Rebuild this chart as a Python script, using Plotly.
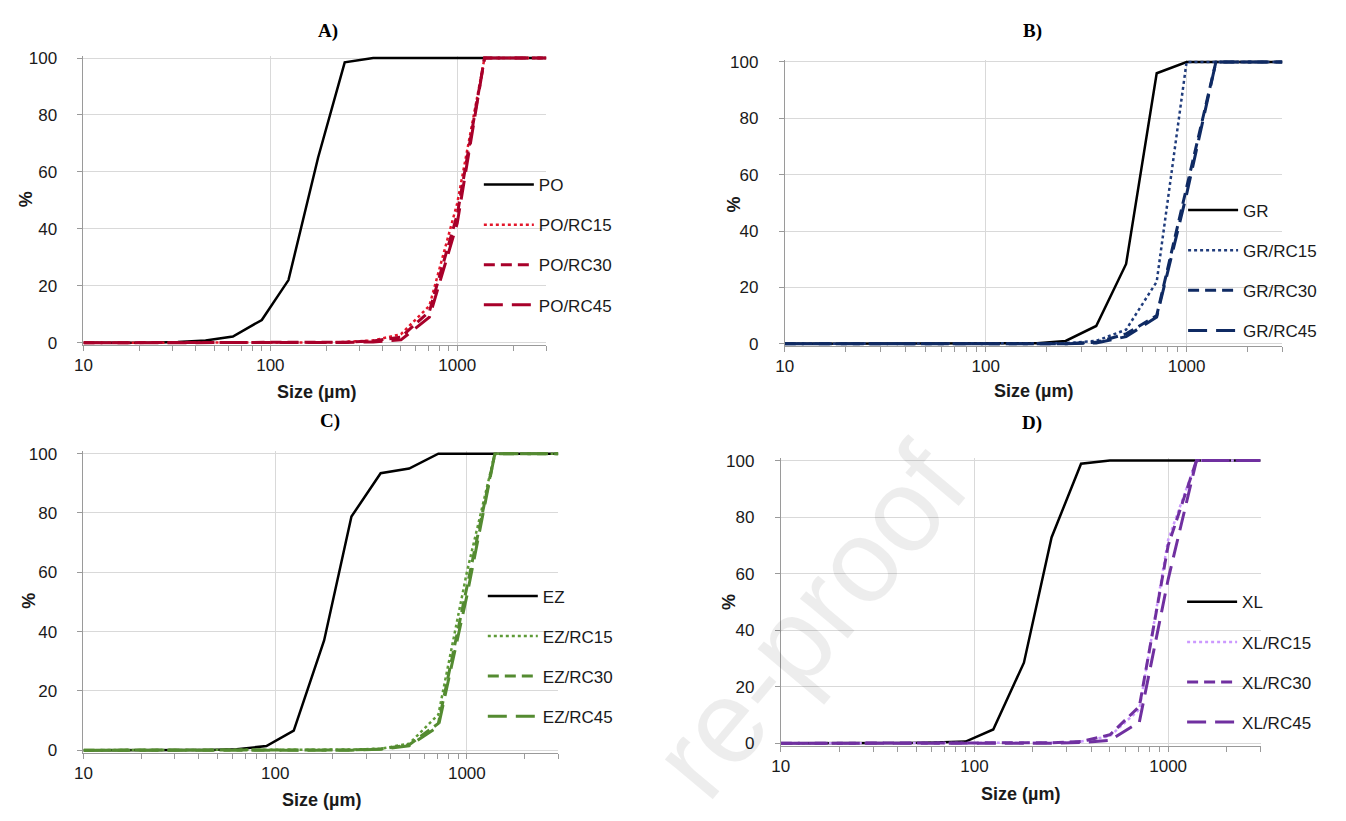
import plotly.graph_objects as go
import math

W, H = 1346, 821

# ---------------- data ----------------
SIZES = [10, 16, 22.4, 32, 45, 63, 90, 125, 180, 250, 355, 500, 710, 1000, 1400, 2000, 3000]

PO      = [0, 0, 0, 0.3, 0.8, 2.2, 8, 22, 65, 98.5, 100, 100, 100, 100, 100, 100, 100]
PO_RC15 = [0, 0, 0, 0, 0, 0, 0, 0, 0.1, 0.3, 0.8, 3, 13, 49, 100, 100, 100]
PO_RC30 = [0, 0, 0, 0, 0, 0, 0, 0, 0, 0.2, 0.6, 2, 11, 45, 100, 100, 100]
PO_RC45 = [0, 0, 0, 0, 0, 0, 0, 0, 0, 0.1, 0.3, 1, 9, 42, 100, 100, 100]

GR      = [0, 0, 0, 0, 0, 0, 0, 0, 0.2, 1, 6.3, 28.3, 96, 100, 100, 100, 100]
GR_RC15 = [0, 0, 0, 0, 0, 0, 0, 0, 0, 0.2, 1, 5, 22, 100, 100, 100, 100]
GR_RC30 = [0, 0, 0, 0, 0, 0, 0, 0, 0, 0, 0.5, 3.5, 10, 56, 100, 100, 100]
GR_RC45 = [0, 0, 0, 0, 0, 0, 0, 0, 0, 0, 0.3, 2.5, 9.5, 53, 100, 100, 100]

EZ      = [0, 0, 0, 0, 0.1, 0.3, 1.4, 6.6, 37, 78.8, 93.4, 95, 100, 100, 100, 100, 100]
EZ_RC15 = [0, 0, 0, 0, 0, 0, 0, 0, 0, 0.2, 0.5, 2.2, 12, 60, 100, 100, 100]
EZ_RC30 = [0, 0, 0, 0, 0, 0, 0, 0, 0, 0.1, 0.4, 1.8, 9, 55, 100, 100, 100]
EZ_RC45 = [0, 0, 0, 0, 0, 0, 0, 0, 0, 0, 0.3, 1.5, 8, 52, 100, 100, 100]

XL      = [0, 0, 0, 0, 0.1, 0.3, 0.6, 4.9, 28.5, 72.8, 98.9, 100, 100, 100, 100, 100, 100]
XL_RC15 = [0, 0, 0, 0, 0, 0, 0, 0, 0, 0.2, 0.6, 2.5, 12, 72, 100, 100, 100]
XL_RC30 = [0, 0, 0, 0, 0, 0, 0, 0, 0, 0.2, 0.6, 3, 13, 70, 100, 100, 100]
XL_RC45 = [0, 0, 0, 0, 0, 0, 0, 0, 0, 0, 0.3, 1, 7.5, 58, 100, 100, 100]

PANEL_TITLES = ["A)", "B)", "C)", "D)"]
SERIES_NAMES = [
    ["PO", "PO/RC15", "PO/RC30", "PO/RC45"],
    ["GR", "GR/RC15", "GR/RC30", "GR/RC45"],
    ["EZ", "EZ/RC15", "EZ/RC30", "EZ/RC45"],
    ["XL", "XL/RC15", "XL/RC30", "XL/RC45"],
]
SERIES_VALUES = [
    [PO, PO_RC15, PO_RC30, PO_RC45],
    [GR, GR_RC15, GR_RC30, GR_RC45],
    [EZ, EZ_RC15, EZ_RC30, EZ_RC45],
    [XL, XL_RC15, XL_RC30, XL_RC45],
]
X_TICKS = [10, 100, 1000]
Y_TICKS = [0, 20, 40, 60, 80, 100]
X_TITLE = "Size (µm)"
Y_TITLE = "%"
WATERMARK = "re-proof"

# ---------------- styling ----------------
COLORS = [
    ["#000000", "#E3162A", "#A8002A", "#A8002A"],
    ["#000000", "#203C7C", "#0F2A63", "#0F2A63"],
    ["#000000", "#5E9A37", "#548B31", "#548B31"],
    ["#000000", "#CC99FF", "#7030A0", "#7030A0"],
]
DASHES = ["solid", "dot", "11px,6px", "19px,9px"]
WIDTHS = [2.5, 2.5, 3, 3]

# pixel boxes: (x px at 10, x px at 3000, y px at 0, y px at 100)
BOXES = [(75, 541, 342, 52), (781, 1282, 343, 56), (75, 553, 757, 455), (777, 1260, 750, 462)]
TITLE_POS = [(321, 24), (1030, 24), (323, 422), (1030, 424)]
XT_POS = [(310, 392), (1031, 391), (315, 808), (1018, 802)]
YT_POS = [(18, 196), (730, 201), (20, 605), (725, 606)]
# (text start x, legend top y)
LEG_POS = [(538, 163), (1247, 189), (542, 582), (1246, 588)]

XMIN, XMAX = 10, 3000
PAD = 0.8
FONT = "Liberation Sans"
GRID = "#D9D9D9"
AXIS = "#9A9A9A"
ITEMW = 50

fig = go.Figure()
layout = dict(
    width=W, height=H, margin=dict(l=0, r=0, t=0, b=0),
    paper_bgcolor="white", plot_bgcolor="white", showlegend=True,
    font=dict(family=FONT, size=17, color="#1a1a1a"),
)
annotations = []

minor_vals = []
for dec in [10, 100, 1000]:
    for k in range(2, 10):
        v = dec * k
        if v <= XMAX:
            minor_vals.append(v)

for i in range(4):
    sfx = "" if i == 0 else str(i + 1)
    xl, xr, y0, y100 = BOXES[i]
    ppu = (y0 - y100) / 100.0
    ybot = y0 + PAD * ppu
    ytop = y100 - PAD * ppu
    leg = "legend" + sfx
    for j in range(4):
        fig.add_trace(go.Scatter(
            x=SIZES, y=SERIES_VALUES[i][j], mode="lines",
            name=SERIES_NAMES[i][j],
            line=dict(color=COLORS[i][j], width=WIDTHS[j], dash=DASHES[j]),
            xaxis="x" + sfx, yaxis="y" + sfx,
            legend=leg, legendgroup=SERIES_NAMES[i][j],
        ))
    layout["xaxis" + sfx] = dict(
        type="log", range=[math.log10(XMIN), math.log10(XMAX)],
        domain=[xl / W, xr / W], anchor="y" + sfx,
        tickmode="array", tickvals=X_TICKS, ticktext=[str(v) for v in X_TICKS],
        showgrid=True, gridcolor=GRID, gridwidth=1,
        showline=True, linecolor=AXIS, linewidth=1,
        ticks="outside", ticklen=5, tickcolor=AXIS,
        minor=dict(tickmode="array", tickvals=minor_vals, ticks="outside",
                   ticklen=5, tickcolor=AXIS, showgrid=False),
        tickfont=dict(size=17, family=FONT, color="#1a1a1a"),
        ticklabelstandoff=0,
        zeroline=False,
    )
    layout["yaxis" + sfx] = dict(
        range=[-PAD, 100 + PAD],
        domain=[1 - ybot / H, 1 - ytop / H], anchor="x" + sfx,
        tickmode="array", tickvals=Y_TICKS,
        showgrid=True, gridcolor=GRID, gridwidth=1,
        showline=True, linecolor=AXIS, linewidth=1,
        ticks="outside", ticklen=5, tickcolor=AXIS,
        tickfont=dict(size=17, family=FONT, color="#1a1a1a"),
        ticklabelstandoff=17,
        zeroline=False,
    )
    lx, ly = LEG_POS[i]
    layout[leg] = dict(
        x=(lx - ITEMW - 15) / W, y=1 - ly / H, xanchor="left", yanchor="top",
        bgcolor="rgba(0,0,0,0)", borderwidth=0, itemwidth=ITEMW,
        font=dict(size=17, family=FONT, color="#1a1a1a"),
        tracegroupgap=15, itemclick=False, itemdoubleclick=False,
    )
    tx, ty = TITLE_POS[i]
    annotations.append(dict(
        text="<b>" + PANEL_TITLES[i] + "</b>", x=tx / W, y=1 - ty / H,
        xref="paper", yref="paper", showarrow=False,
        xanchor="center", yanchor="middle",
        font=dict(family="Liberation Serif", size=19, color="#000000"),
    ))
    ax, ay = XT_POS[i]
    annotations.append(dict(
        text="<b>" + X_TITLE + "</b>", x=ax / W, y=1 - ay / H,
        xref="paper", yref="paper", showarrow=False,
        xanchor="center", yanchor="middle",
        font=dict(family=FONT, size=18, color="#1a1a1a"),
    ))
    bx, by = YT_POS[i]
    annotations.append(dict(
        text="<b>" + Y_TITLE + "</b>", x=bx / W, y=1 - by / H,
        xref="paper", yref="paper", showarrow=False, textangle=-90,
        xanchor="center", yanchor="middle",
        font=dict(family=FONT, size=18, color="#1a1a1a"),
    ))

# faint watermark (visible part of the page stamp)
annotations.append(dict(
    text=WATERMARK, x=805 / W, y=1 - 625 / H,
    xref="paper", yref="paper", showarrow=False, textangle=-50,
    xanchor="center", yanchor="middle",
    font=dict(family=FONT, size=118, color="rgba(0,0,0,0.07)"),
))

layout["annotations"] = annotations
fig.update_layout(**layout)
fig.write_html("out.html")
